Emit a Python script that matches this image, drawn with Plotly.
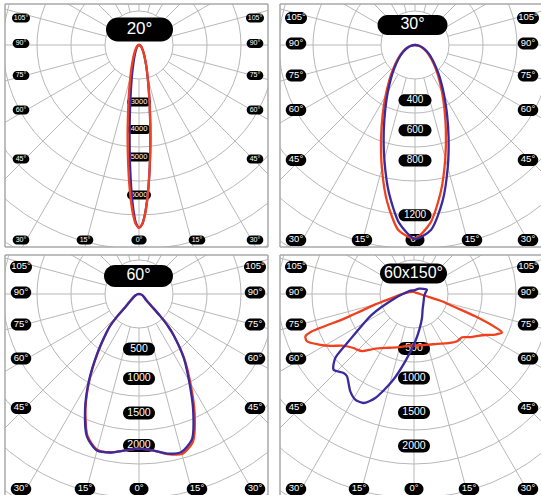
import math
import plotly.graph_objects as go

W, H = 541, 495

# ---------------- data (angle from nadir in degrees, intensity in cd) ----------------
angles_20 = [-90, -60, -45, -30, -20, -15, -12, -10, -8, -7, -6, -5, -4, -3, -2, -1, 0,
             1, 2, 3, 4, 5, 6, 7, 8, 10, 12, 15, 20, 30, 45, 60, 90]
red_20 = [0, 65, 135, 322, 700, 1153, 1639, 2122, 2788, 3210, 3689, 4223, 4791, 5348, 5831, 6168, 6290,
          6168, 5831, 5348, 4791, 4223, 3689, 3210, 2788, 2122, 1639, 1153, 700, 322, 135, 65, 0]
blue_20 = [0, 44, 93, 223, 493, 833, 1217, 1618, 2210, 2608, 3091, 3658, 4308, 4996, 5641, 6113, 6280,
           6168, 5831, 5348, 4791, 4223, 3689, 3210, 2788, 2122, 1639, 1153, 700, 322, 135, 65, 0]

angles_30 = [-90, -80, -70, -60, -50, -40, -35, -30, -25, -20, -15, -10, -5, 0,
             5, 10, 15, 20, 25, 30, 35, 40, 50, 60, 70, 80, 90]
red_30 = [0, 29, 61, 102, 161, 253, 322, 413, 535, 694, 895, 1118, 1304, 1355,
          1248, 1042, 820, 632, 486, 377, 295, 234, 148, 94, 55, 25, 0]
blue_30 = [0, 25, 56, 95, 150, 236, 298, 381, 491, 639, 829, 1051, 1254, 1357,
           1298, 1110, 886, 687, 529, 409, 319, 251, 160, 102, 60, 29, 0]

angles_60 = [-90, -80, -70, -60, -50, -46, -44, -42, -40, -35, -30, -25, -20, -15, -10, -5, 0,
             5, 10, 15, 20, 25, 30, 35, 40, 42, 44, 46, 50, 60, 70, 80, 90]
red_60 = [0, 20, 45, 80, 160, 250, 420, 560, 645, 920, 1265, 1620, 1930, 2065, 2060, 2010, 1980,
          2010, 2080, 2120, 2015, 1685, 1315, 1010, 690, 560, 385, 220, 120, 70, 45, 20, 0]
blue_60 = [0, 20, 45, 80, 160, 250, 420, 560, 655, 935, 1280, 1635, 1945, 2075, 2060, 2010, 1980,
           2010, 2075, 2095, 1980, 1640, 1280, 998, 690, 560, 385, 220, 120, 70, 45, 20, 0]

angles_60x150_red = [-180, -135, -90, -80, -75, -72, -71, -70.4, -69.9, -68.7, -66.2, -62, -58, -54.4,
                     -48.2, -45.7, -42.2, -38, -35.3, -25, -15, -6, 0, 16, 25, 35, 42.3, 48, 52, 55.4,
                     60, 63.5, 66.5, 67.7, 70, 72, 73.5, 75.4, 80, 90, 135, 180]
red_60x150 = [26, 38, 154, 282, 512, 730, 870, 978, 1390, 1492, 1498, 1379, 1254, 1134,
              1037, 1019, 987, 905, 856, 759, 704, 664, 659, 675, 704, 768, 818, 828, 896, 954,
              1050, 1163, 1229, 1125, 835, 571, 461, 370, 166, 77, 26, 26]
angles_60x150_blue = [-180, -132.6, -90, -77.9, -63.9, -54.1, -50.9, -46.8, -41.7, -39.2, -33.2, -29.1,
                      -24.8, -20.4, -14.1, -7.4, 1.6, 8.5, 18.4, 28.9, 52.7, 75, 95, 108.7, 135.6, 180]
blue_60x150 = [46, 64, 141, 244, 599, 1033, 1298, 1413, 1354, 1358, 1489, 1546,
               1537, 1421, 1152, 869, 605, 461, 324, 228, 155, 134, 145, 175, 95, 46]

titles = ["20°", "30°", "60°", "60x150°"]
ring_labels_20 = ["3000", "4000", "5000", "6000"]
ring_labels_30 = ["400", "600", "800", "1200"]
ring_labels_60 = ["500", "1000", "1500", "2000"]
ring_labels_60x150 = ["500", "1000", "1500", "2000"]
side_labels = ["105°", "90°", "75°", "60°", "45°"]
bottom_labels = ["30°", "15°", "0°", "15°", "30°"]
spoke_step_deg = 15

# ---------------- layout / style ----------------
RED = "#f0401e"
BLUE = "#3b2a9e"
GRID = "#b8b8b8"
FRAME = "#a8a8a8"
FONT = "Liberation Sans, Arial, sans-serif"
RING_PX = 34.0

panels = [
    dict(box=(5, 4, 268, 247), c=(139, 45), cdpx=34.4, title=titles[0], tpos=(139.5, 29.5), tsize=(67, 24), tfont=17,
         series=[(angles_20, blue_20, BLUE), (angles_20, red_20, RED)],
         rings=ring_labels_20, ring_r=[57, 84.5, 112, 150], ring_pill=(24, 9), ring_font=7.5,
         edge_pill_h=9, edge_font=7, edge_w=(12.5, 1.4),
         side_x=(-118, 116), rows=[-27, -1.5, 30.5, 65, 114], bottom_y=195, bottom_x=[-118, -54, 0, 58, 116],
         frame="LTRB"),
    dict(box=(280, 4, 541, 247), c=(415, 45), cdpx=7.0, title=titles[1], tpos=(412.5, 25), tsize=(70, 20), tfont=16,
         series=[(angles_30, red_30, RED), (angles_30, blue_30, BLUE)],
         rings=ring_labels_30, ring_r=[55.3, 85.3, 115.5, 170.3], ring_pill=(33, 12), ring_font=10,
         edge_pill_h=12, edge_font=9.5, edge_w=(16, 1.5),
         side_x=(-119, 113), rows=[-27, -1.5, 30.5, 65, 115], bottom_y=195, bottom_x=[-119, -53, 0, 57, 113],
         frame="LTB"),
    dict(box=(5, 255, 268, 500), c=(139, 294), cdpx=12.8, title=titles[2], tpos=(138.5, 276), tsize=(69, 22), tfont=16,
         series=[(angles_60, red_60, RED), (angles_60, blue_60, BLUE)],
         rings=ring_labels_60, ring_r=[55, 84.5, 119, 151.5], ring_pill=(32, 13), ring_font=10.5,
         edge_pill_h=12, edge_font=9.5, edge_w=(16, 1.5),
         side_x=(-118, 116), rows=[-27, -1.5, 30.5, 64.5, 114], bottom_y=195, bottom_x=[-118, -54, 0, 58, 116],
         frame="LTR"),
    dict(box=(280, 255, 541, 500), c=(414, 294), cdpx=12.8, title=titles[3], tpos=(413.5, 273.5), tsize=(67, 20), tfont=16,
         series=[(angles_60x150_red, red_60x150, RED), (angles_60x150_blue, blue_60x150, BLUE)],
         rings=ring_labels_60x150, ring_r=[54.5, 84, 118.5, 152], ring_pill=(32, 13), ring_font=10.5,
         edge_pill_h=12, edge_font=9.5, edge_w=(16, 1.5),
         side_x=(-118, 114), rows=[-27, -1.5, 30.5, 64.5, 114], bottom_y=195, bottom_x=[-118, -55, 0, 55, 114],
         frame="LT"),
]


def pill_path(w, h):
    r = h / 2.0
    cx = max(w / 2.0 - r, 0)
    k = 0.5523 * r
    return (f"M{-cx},{-r} L{cx},{-r} C{cx + k},{-r} {cx + r},{-k} {cx + r},0 "
            f"C{cx + r},{k} {cx + k},{r} {cx},{r} L{-cx},{r} "
            f"C{-cx - k},{r} {-cx - r},{k} {-cx - r},0 C{-cx - r},{-k} {-cx - k},{-r} {-cx},{-r} Z")


fig = go.Figure()
shapes = []
layout_axes = {}

for i, p in enumerate(panels):
    sfx = "" if i == 0 else str(i + 1)
    xa, ya = "x" + sfx, "y" + sfx
    bx0, by0, bx1, by1 = p["box"]
    cx, cy = p["c"]
    layout_axes["xaxis" + sfx] = dict(domain=[bx0 / W, min(bx1 / W, 1)], range=[bx0 - cx, bx1 - cx],
                                      anchor=ya, visible=False, fixedrange=True)
    layout_axes["yaxis" + sfx] = dict(domain=[max(1 - by1 / H, 0), 1 - by0 / H], range=[cy - min(by1, H), cy - by0],
                                      anchor=xa, visible=False, fixedrange=True)

    # polar grid: rings and spokes
    for k in range(1, 10):
        rr = RING_PX * k
        shapes.append(dict(type="circle", xref=xa, yref=ya, x0=-rr, x1=rr, y0=-rr, y1=rr,
                           line=dict(color=GRID, width=1), layer="below"))
    for a in range(0, 360, spoke_step_deg):
        t = math.radians(a)
        sx, sy = math.sin(t), -math.cos(t)
        shapes.append(dict(type="line", xref=xa, yref=ya, x0=RING_PX * sx, y0=RING_PX * sy,
                           x1=600 * sx, y1=600 * sy, line=dict(color=GRID, width=1), layer="below"))

    tx, ty, tt, tf = [], [], [], []

    def add_label(x, y, text, w, h, fs):
        shapes.append(dict(type="path", xref=xa, yref=ya, xsizemode="pixel", ysizemode="pixel",
                           xanchor=x, yanchor=y, path=pill_path(w, h), fillcolor="black",
                           line=dict(width=0), layer="below"))
        tx.append(x); ty.append(y); tt.append(text); tf.append(fs)

    # title
    add_label(p["tpos"][0] - cx, cy - p["tpos"][1], p["title"], p["tsize"][0], p["tsize"][1], p["tfont"])
    # edge angle labels
    ew0, ew1 = p["edge_w"]
    for lab, ry in zip(side_labels, p["rows"]):
        for sxp in p["side_x"]:
            add_label(sxp, -ry, lab, ew0 + ew1 * len(lab), p["edge_pill_h"], p["edge_font"])
    for lab, rx in zip(bottom_labels, p["bottom_x"]):
        add_label(rx, -p["bottom_y"], lab, ew0 + ew1 * len(lab), p["edge_pill_h"], p["edge_font"])
    # intensity ring labels
    for lab, rr in zip(p["rings"], p["ring_r"]):
        add_label(0, -rr, lab, p["ring_pill"][0], p["ring_pill"][1], p["ring_font"])

    fig.add_trace(go.Scatter(x=tx, y=ty, text=tt, mode="text", xaxis=xa, yaxis=ya,
                             textposition="middle center",
                             textfont=dict(color="white", size=tf, family=FONT),
                             hoverinfo="skip", showlegend=False))

    # luminous intensity curves
    for ang, val, col in p["series"]:
        xs = [v / p["cdpx"] * math.sin(math.radians(a)) for a, v in zip(ang, val)]
        ys = [-v / p["cdpx"] * math.cos(math.radians(a)) for a, v in zip(ang, val)]
        fig.add_trace(go.Scatter(x=xs, y=ys, mode="lines", xaxis=xa, yaxis=ya,
                                 line=dict(color=col, width=2.3, shape="spline", smoothing=0.7),
                                 hoverinfo="skip", showlegend=False))

    # frame
    fx0, fx1 = bx0 / W, bx1 / W
    fy0, fy1 = 1 - by1 / H, 1 - by0 / H
    segs = {"L": (fx0, fy0, fx0, fy1), "T": (fx0, fy1, fx1, fy1), "R": (fx1, fy0, fx1, fy1), "B": (fx0, fy0, fx1, fy0)}
    for side in p["frame"]:
        a0, b0, a1, b1 = segs[side]
        shapes.append(dict(type="line", xref="paper", yref="paper", x0=a0, y0=b0, x1=a1, y1=b1,
                           line=dict(color=FRAME, width=1.5), layer="above"))

fig.update_layout(width=W, height=H, margin=dict(l=0, r=0, t=0, b=0),
                  paper_bgcolor="white", plot_bgcolor="rgba(0,0,0,0)",
                  showlegend=False, shapes=shapes, **layout_axes)

fig.write_html("out.html", config={"displayModeBar": False, "staticPlot": True},
               post_script="document.body.style.margin='0';document.body.style.padding='0';")
